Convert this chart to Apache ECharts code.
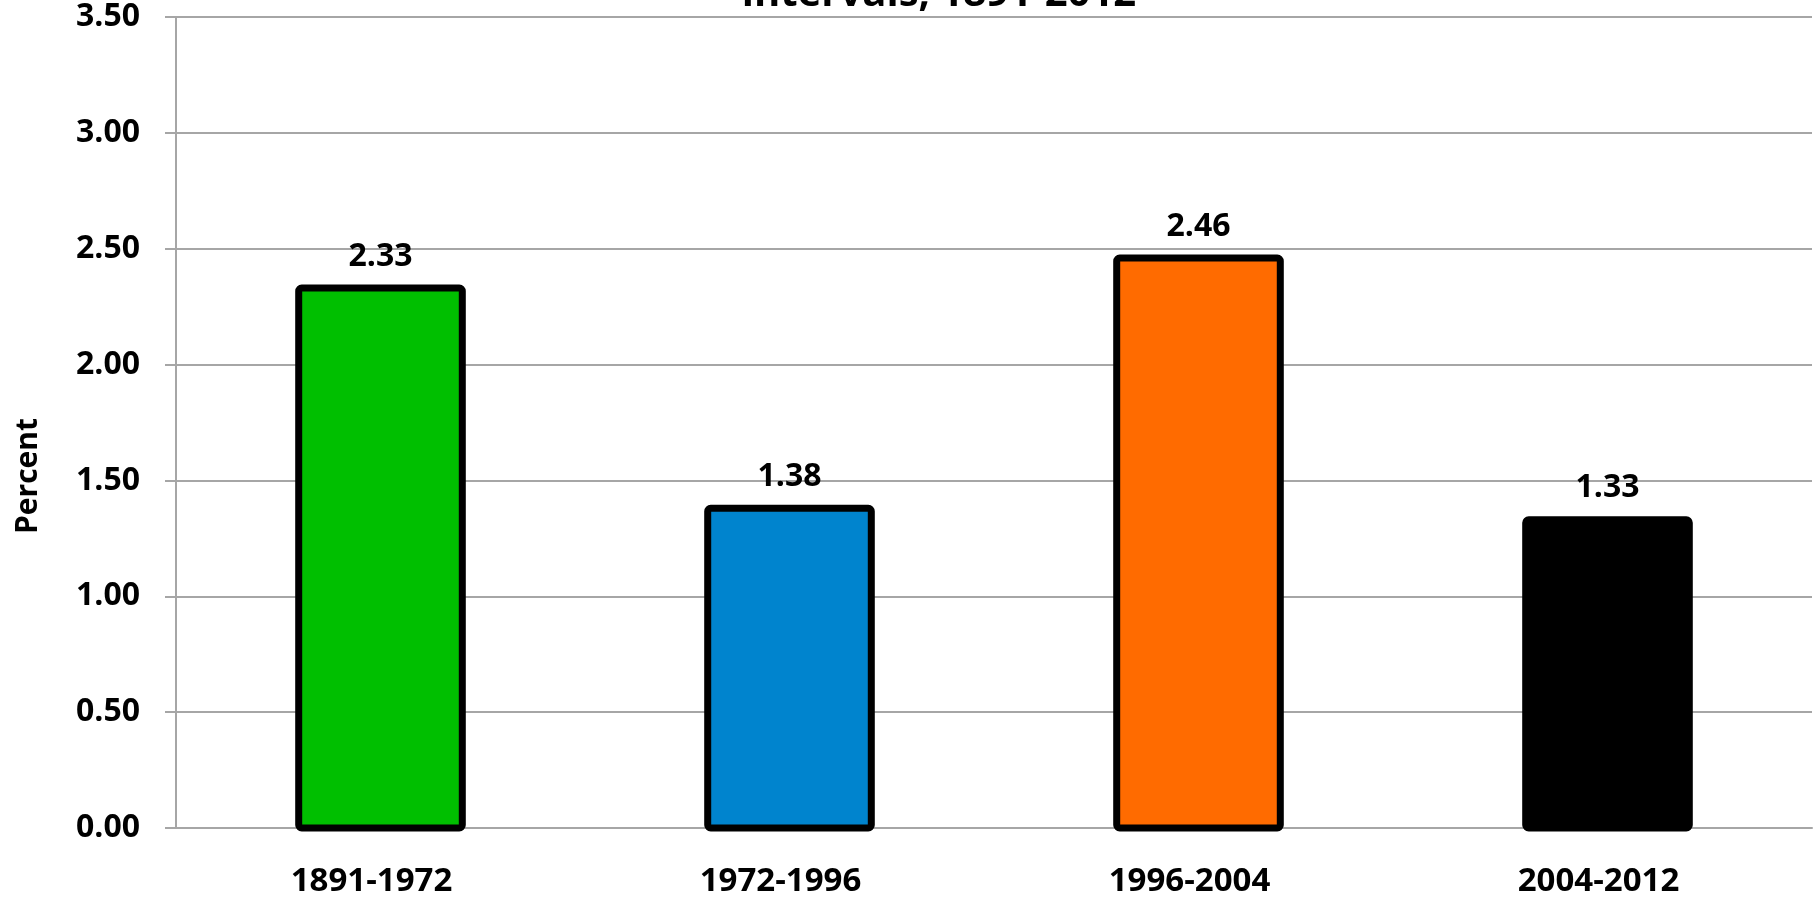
<!DOCTYPE html>
<html>
<head>
<meta charset="utf-8">
<script src="https://cdn.jsdelivr.net/npm/echarts@6/dist/echarts.min.js"></script>
<style>
  html, body { margin: 0; padding: 0; background: #fff; }
  #chart { width: 1819px; height: 898px; }
</style>
</head>
<body>
<div id="chart"></div>
<script>
// Average annual growth by interval
const categories = ['1891-1972', '1972-1996', '1996-2004', '2004-2012'];
const values = [2.33, 1.38, 2.46, 1.33];
const barColors = ['#00BF00', '#0084CE', '#FF6B00', '#000000'];
const yTicks = [0, 0.5, 1, 1.5, 2, 2.5, 3, 3.5];
const titleText = 'intervals, 1891-2012';
const yAxisTitle = 'Percent';

const FONT = '"Open Sans", "Noto Sans", sans-serif';
const GRID_GRAY = '#A6A6A6';
const BAR_RATIO = 0.4;      // bar width as a share of the category band
const OUTLINE = 7;          // black outline, centred on the bar edge

const chart = echarts.init(document.getElementById('chart'), null, { renderer: 'canvas' });

// Bars with the outline stroked on the edge itself, value label above.
function renderBar(params, api) {
  const idx = api.value(0);
  const val = api.value(1);
  const top = api.coord([idx, val]);
  const base = api.coord([idx, 0]);
  const band = api.size([1, 0])[0];
  const w = band * BAR_RATIO;
  const h = base[1] - top[1];
  return {
    type: 'group',
    children: [
      {
        type: 'rect',
        shape: { x: top[0] - w / 2, y: top[1], width: w, height: h, r: 3 },
        style: { fill: barColors[idx], stroke: '#000', lineWidth: OUTLINE, lineJoin: 'round' }
      },
      {
        type: 'text',
        style: {
          text: val.toFixed(2),
          x: top[0],
          y: top[1] - OUTLINE / 2 - 12,
          align: 'center',
          verticalAlign: 'bottom',
          fill: '#000',
          font: 'bold 32px ' + FONT
        }
      }
    ]
  };
}

chart.setOption({
  animation: false,
  backgroundColor: '#ffffff',
  grid: { left: 176, right: 7, top: 17, bottom: 70, containLabel: false },
  xAxis: {
    type: 'category',
    data: categories,
    axisLine: { show: true, lineStyle: { color: GRID_GRAY, width: 2 } },
    axisTick: { show: false },
    axisLabel: {
      margin: 37,
      color: '#000',
      fontFamily: FONT,
      fontWeight: 'bold',
      fontSize: 33,
      padding: [0, 18, 0, 0]
    }
  },
  yAxis: {
    type: 'value',
    min: yTicks[0],
    max: yTicks[yTicks.length - 1],
    interval: 0.5,
    axisLine: { show: true, lineStyle: { color: GRID_GRAY, width: 2 } },
    axisTick: { show: true, length: 11, lineStyle: { color: GRID_GRAY, width: 2 } },
    splitLine: { show: true, lineStyle: { color: GRID_GRAY, width: 2 } },
    axisLabel: {
      margin: 36,
      color: '#000',
      fontFamily: FONT,
      fontWeight: 'bold',
      fontSize: 32,
      padding: [8, 0, 0, 0],
      formatter: v => v.toFixed(2)
    }
  },
  series: [{
    type: 'custom',
    clip: false,
    renderItem: renderBar,
    encode: { x: 0, y: 1 },
    data: values.map((v, i) => [i, v])
  }],
  graphic: [
    {
      type: 'text',
      x: 939,
      y: -5,
      style: {
        text: titleText,
        align: 'center',
        verticalAlign: 'middle',
        fill: '#000',
        font: 'bold 40px ' + FONT
      }
    },
    {
      type: 'text',
      x: 28,
      y: 476,
      rotation: Math.PI / 2,
      style: {
        text: yAxisTitle,
        align: 'center',
        verticalAlign: 'middle',
        fill: '#000',
        font: 'bold 30px ' + FONT
      }
    }
  ]
});
</script>
</body>
</html>
